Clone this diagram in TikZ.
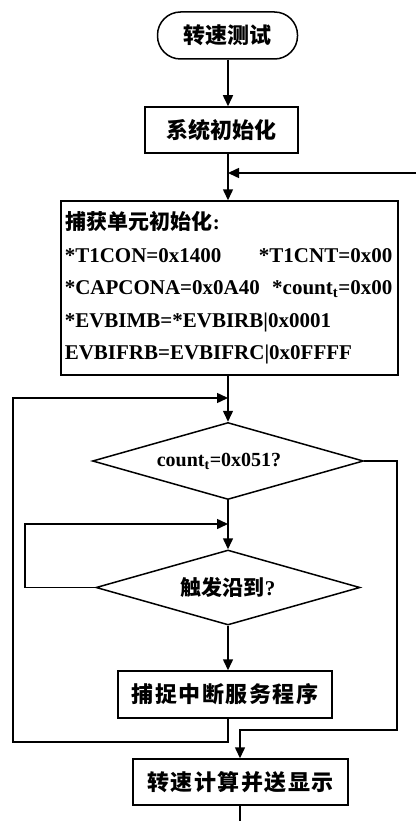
\documentclass[tikz,border=0pt]{standalone}
\usepackage{fontspec}
\setmainfont{Liberation Serif}
\newfontfamily\cjk{Noto Sans CJK SC}
\newfontfamily\cjkw{Noto Sans CJK SC}[LetterSpace=7]
\usetikzlibrary{shapes.geometric,arrows.meta}
\begin{document}
\begin{tikzpicture}[x=1pt,y=-1pt,
  line width=1.5pt,
  arr/.style={-{Triangle[length=11pt,width=10pt]}},
  box/.style={draw,rectangle,inner sep=0pt,font=\cjk\bfseries\fontsize{22}{22}\selectfont},
  wbox/.style={draw,rectangle,inner sep=0pt,font=\cjkw\bfseries\fontsize{22}{22}\selectfont},
  dec/.style={draw,diamond,inner sep=0pt},
  txt/.style={anchor=base west,inner sep=0pt,font=\bfseries\fontsize{21}{21}\selectfont},
  rtxt/.style={txt,anchor=base east}]
\useasboundingbox (0,0) rectangle (416,821);
\node[box,rounded corners=23pt,minimum width=140pt,minimum height=47pt] (start) at (227.5,35.5) {转速测试};
\node[box,minimum width=153pt,minimum height=46pt] (init) at (221.5,130) {系统初始化};
\node[draw,rectangle,minimum width=337pt,minimum height=174pt] (cap) at (229.5,288) {};
\node[txt] (l1) at (65,229.5) {{\cjk 捕获单元初始化}:};
\node[txt] (l2a) at (64,262) {*T1CON=0x1400};
\node[rtxt] (l2b) at (393,262) {*T1CNT=0x00};
\node[txt] (l3a) at (64,294.5) {*CAPCONA=0x0A40};
\node[rtxt] (l3b) at (393,294.5) {*count$_{\mathbf{t}}$=0x00};
\node[txt] (l4) at (64,327) {*EVBIMB=*EVBIRB|0x0001};
\node[txt] (l5) at (64,359) {EVBIFRB=EVBIFRC|0x0FFFF};
\node[dec,minimum width=271pt,minimum height=77pt] (d1) at (228,461) {};
\node[font=\bfseries\fontsize{20}{20}\selectfont] (t1) at (219,461) {count$_{\mathbf{t}}$=0x051?};
\node[dec,minimum width=264pt,minimum height=75pt] (d2) at (228,587.5) {};
\node[font=\bfseries\fontsize{21}{21}\selectfont] (t2) at (228,587.5) {{\cjk 触发沿到}?};
\node[wbox,minimum width=214pt,minimum height=47pt] (srv) at (225,694.5) {捕捉中断服务程序};
\node[wbox,minimum width=215pt,minimum height=46pt] (spd) at (240.5,782) {转速计算并送显示};
\coordinate (rt) at (416,173);
\coordinate (J1) at (228,398);
\coordinate (L1) at (13,742);
\coordinate (J2) at (228,524);
\coordinate (L2) at (25,587);
\coordinate (R1) at (397,730);
\coordinate (E) at (240,821);
\draw[arr] (start.south -| J1) -- (init.north -| J1);
\draw[arr] (init.south -| J1) -- (cap.north -| J1);
\draw[arr] (rt) -- (rt -| J1);
\draw[arr] (cap.south -| J1) -- (d1.north);
\draw[arr] (srv.south -| J1) -- (J1 |- L1) -- (L1) |- (J1);
\draw[arr] (d1.south) -- (d2.north);
\draw[arr] (d2.west) -- (L2 |- d2.west) |- (J2);
\draw[arr] (d2.south) -- (d2.south |- srv.north);
\draw[arr] (d1.east) -| (R1) -- (R1 -| E) -- (spd.north -| E);
\draw (spd.south -| E) -- (E);
\end{tikzpicture}
\end{document}
